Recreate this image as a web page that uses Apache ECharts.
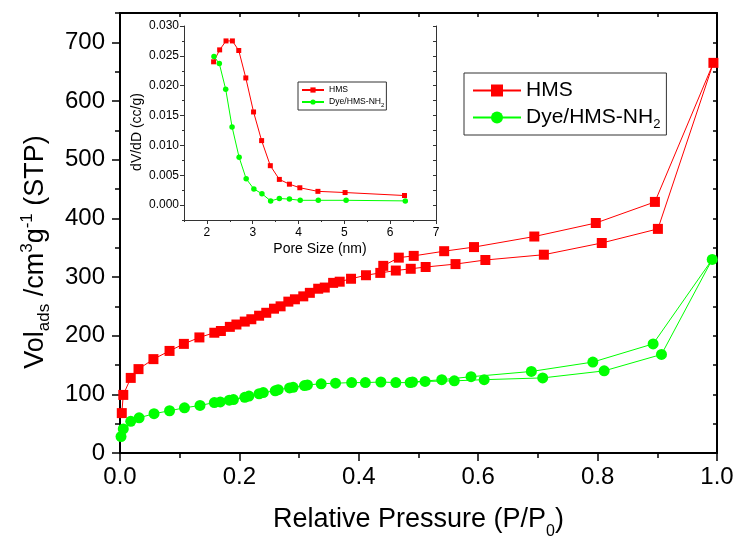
<!DOCTYPE html>
<html><head><meta charset="utf-8">
<script src="https://cdn.jsdelivr.net/npm/echarts@6/dist/echarts.min.js"></script>
<style>html,body{margin:0;padding:0;background:#fff}#c{width:739px;height:540px}</style>
</head><body><div id="c"></div>
<script>
// ---- Main isotherm data (relative pressure P/P0, volume cm3/g STP) ----
const hmsAdsP = [0.003,0.0055,0.018,0.031,0.056,0.083,0.107,0.133,0.158,0.169,0.184,0.195,0.209,0.220,0.233,0.245,0.258,0.269,0.282,0.293,0.307,0.318,0.332,0.343,0.357,0.368,0.387,0.412,0.436,0.462,0.487,0.512,0.562,0.612,0.710,0.807,0.901,0.994];
const hmsAdsV = [68,99,128,143,160,174,186,197,205,208,215,219,224,228,234,239,246,250,258,262,267,273,280,282,290,292,297,303,307,311,314,317,322,329,338,358,382,665];
const hmsDesP = [0.896,0.797,0.694,0.593,0.543,0.492,0.467,0.441];
const hmsDesV = [428,392,369,351,344,336,333,319];
const dyeAdsP = [0.0017,0.0055,0.018,0.032,0.057,0.083,0.108,0.134,0.158,0.168,0.183,0.190,0.209,0.216,0.233,0.240,0.260,0.265,0.284,0.290,0.309,0.314,0.337,0.361,0.388,0.411,0.437,0.462,0.486,0.511,0.560,0.610,0.708,0.811,0.907,0.992];
const dyeAdsV = [28,41,54,60,67,72,77,81,86,87,90,91,95,97,101,103,106,108,111,112,115,116,118,119,120,120,121,120,120,122,123,125,128,140,168,330];
const dyeDesP = [0.893,0.792,0.689,0.588,0.539,0.490];
const dyeDesV = [186,155,139,130,125,121];
// ---- Inset pore size distribution (nm, cc/g) ----
const poreHmsD = [2.146,2.278,2.417,2.556,2.695,2.849,3.018,3.194,3.384,3.581,3.801,4.028,4.423,5.016,6.312];
const poreHmsV = [0.0240,0.0260,0.0275,0.0275,0.0259,0.0213,0.0156,0.0108,0.0066,0.0043,0.0035,0.0029,0.0023,0.0021,0.0016];
const poreDyeD = [2.154,2.271,2.410,2.549,2.703,2.857,3.025,3.201,3.391,3.581,3.801,4.036,4.431,5.038,6.330];
const poreDyeV = [0.0249,0.0237,0.0194,0.0131,0.0080,0.0044,0.0027,0.0019,0.0007,0.0011,0.0010,0.0008,0.0008,0.0008,0.0007];
// ---- Tick labels ----
const insetXTicks = [2,3,4,5,6,7];
const insetYTicks = [0,0.005,0.010,0.015,0.020,0.025,0.030];
const seriesNames = ['HMS','Dye/HMS-NH2'];

function pairs(xs, ys){ return xs.map((x,i)=>[x, ys[i]]); }
const FONT = '"Liberation Sans", Arial, sans-serif';
const RED = '#ff0000', GREEN = '#00ff00';
const blk = {color:'#000', width:2};
const thin = {color:'#333', width:1};

const chart = echarts.init(document.getElementById('c'), null, {renderer:'canvas'});
const option = {
  animation:false,
  backgroundColor:'#fff',
  textStyle:{fontFamily:FONT},
  grid:[
    {left:120, right:22, top:13, bottom:87, containLabel:false, outerBoundsMode:'none'},
    {left:184, right:303, top:26, bottom:320, containLabel:false, outerBoundsMode:'none'}
  ],
  xAxis:[
    {gridIndex:0, type:'value', position:'bottom', min:0, max:1, interval:0.2,
     axisLine:{show:true, onZero:false, lineStyle:blk},
     axisTick:{show:true, inside:false, length:8, lineStyle:{color:'#000', width:1.5}},
     minorTick:{show:true, splitNumber:2, length:5, lineStyle:{color:'#000', width:1.5}},
     axisLabel:{fontSize:24, color:'#000', margin:12, fontFamily:FONT, formatter:v=>v.toFixed(1)},
     splitLine:{show:false},
     name:'Relative Pressure (P/P{sub|0})', nameLocation:'middle', nameGap:47,
     nameTextStyle:{fontSize:27, color:'#000', fontFamily:FONT, lineHeight:30,
       rich:{sub:{fontSize:16, verticalAlign:'bottom', lineHeight:40, fontFamily:FONT, color:'#000'}}}},
    {gridIndex:0, type:'value', position:'top', min:0, max:1, interval:0.1,
     axisLine:{show:true, onZero:false, lineStyle:blk},
     axisTick:{show:true, inside:true, length:4, lineStyle:{color:'#000', width:1.5}},
     axisLabel:{show:false}, splitLine:{show:false}},
    {gridIndex:1, type:'value', position:'bottom', min:1.5, max:7, interval:0.5,
     axisLine:{show:true, onZero:false, lineStyle:thin},
     axisTick:{show:true, inside:false, length:4, customValues:insetXTicks, lineStyle:thin},
     axisLabel:{fontSize:12, color:'#000', margin:7, fontFamily:FONT, customValues:insetXTicks,
       formatter:v=>Number.isInteger(v)?String(v):''},
     splitLine:{show:false},
     name:'Pore Size (nm)', nameLocation:'middle', nameGap:22,
     nameTextStyle:{fontSize:14, color:'#000', fontFamily:FONT, padding:[0,0,0,20]}},
    {gridIndex:1, type:'value', position:'bottom', min:1.5, max:7, interval:0.5,
     axisLine:{show:false, onZero:false},
     axisTick:{show:true, inside:false, length:2, lineStyle:thin},
     axisLabel:{show:false}, splitLine:{show:false}}
  ],
  yAxis:[
    {gridIndex:0, type:'value', position:'left', min:0, max:750, interval:100,
     axisLine:{show:true, onZero:false, lineStyle:blk},
     axisTick:{show:true, inside:false, length:8, lineStyle:{color:'#000', width:1.5}},
     axisLabel:{fontSize:24, color:'#000', margin:15, fontFamily:FONT, showMaxLabel:false},
     splitLine:{show:false},
     name:'Vol{sub|ads} /cm{sup|3}g{sup|-1} (STP)', nameLocation:'middle', nameGap:67, nameRotate:90,
     nameTextStyle:{fontSize:27, color:'#000', fontFamily:FONT, lineHeight:34, padding:[0,38,0,0],
       rich:{
         sub:{fontSize:17, verticalAlign:'bottom', lineHeight:17, fontFamily:FONT, color:'#000'},
         sup:{fontSize:17, verticalAlign:'top', lineHeight:17, fontFamily:FONT, color:'#000'}
       }}},
    {gridIndex:0, type:'value', position:'left', min:0, max:750, interval:50,
     axisLine:{show:false, onZero:false},
     axisTick:{show:true, inside:false, length:5, lineStyle:{color:'#000', width:1.5}},
     axisLabel:{show:false}, splitLine:{show:false}},
    {gridIndex:0, type:'value', position:'right', min:0, max:750, interval:50,
     axisLine:{show:true, onZero:false, lineStyle:blk},
     axisTick:{show:true, inside:true, length:4, lineStyle:{color:'#000', width:1.5}},
     axisLabel:{show:false}, splitLine:{show:false}},
    {gridIndex:1, type:'value', position:'left', min:-0.0025, max:0.03, interval:0.0025,
     axisLine:{show:true, onZero:false, lineStyle:thin},
     axisTick:{show:true, inside:false, length:4, customValues:insetYTicks, lineStyle:thin},
     axisLabel:{fontSize:12, color:'#000', margin:5, fontFamily:FONT, customValues:insetYTicks,
       formatter:v=>{const k=v/0.005; return (v>=-1e-9 && Math.abs(k-Math.round(k))<1e-6)?Math.abs(v).toFixed(3):'';}},
     splitLine:{show:false},
     name:'dV/dD (cc/g)', nameLocation:'middle', nameGap:40, nameRotate:90,
     nameTextStyle:{fontSize:14, color:'#000', fontFamily:FONT, padding:[0,18,0,0]}},
    {gridIndex:1, type:'value', position:'left', min:-0.0025, max:0.03, interval:0.0025,
     axisLine:{show:false, onZero:false},
     axisTick:{show:true, inside:false, length:2, lineStyle:thin},
     axisLabel:{show:false}, splitLine:{show:false}},
    {gridIndex:1, type:'value', position:'right', min:-0.0025, max:0.03, interval:0.0025,
     axisLine:{show:true, onZero:false, lineStyle:thin},
     axisTick:{show:true, inside:true, length:3, lineStyle:thin},
     axisLabel:{show:false}, splitLine:{show:false}}
  ],
  legend:[
    {data:seriesNames, orient:'vertical', left:464, top:73, itemWidth:48, itemHeight:15, itemGap:0, itemTextGap:7,
     padding:[4,6,4,8], borderColor:'#333', borderWidth:1, backgroundColor:'#fff',
     selectedMode:false,
     formatter:n=> n==='Dye/HMS-NH2' ? 'Dye/HMS-NH{sub|2}' : n,
     textStyle:{fontSize:21, lineHeight:27, color:'#000', fontFamily:FONT,
       rich:{sub:{fontSize:13, verticalAlign:'bottom', lineHeight:13, color:'#000', fontFamily:FONT}}}},
    {data:['HMS-inset','Dye-inset'], orient:'vertical', left:298, top:82, itemWidth:22, itemHeight:6.5, itemGap:0, itemTextGap:2,
     padding:[2,2,2,3], borderColor:'#333', borderWidth:1, backgroundColor:'#fff',
     selectedMode:false,
     formatter:n=> n==='HMS-inset' ? 'HMS' : 'Dye/HMS-NH{sub|2}',
     textStyle:{fontSize:8.6, lineHeight:12, color:'#000', fontFamily:FONT,
       rich:{sub:{fontSize:6, verticalAlign:'bottom', lineHeight:6, color:'#000', fontFamily:FONT}}}}
  ],
  series:[
    {name:'HMS', type:'line', xAxisIndex:0, yAxisIndex:0,
     data:[...pairs(hmsAdsP,hmsAdsV), ...pairs(hmsDesP,hmsDesV)],
     symbol:'rect', symbolSize:10, itemStyle:{color:RED}, lineStyle:{color:RED, width:1}, silent:true},
    {name:'Dye/HMS-NH2', type:'line', xAxisIndex:0, yAxisIndex:0,
     data:[...pairs(dyeAdsP,dyeAdsV), ...pairs(dyeDesP,dyeDesV)],
     symbol:'circle', symbolSize:11, itemStyle:{color:GREEN}, lineStyle:{color:GREEN, width:1}, silent:true},
    {name:'HMS-inset', type:'line', xAxisIndex:2, yAxisIndex:3,
     data:pairs(poreHmsD,poreHmsV),
     symbol:'rect', symbolSize:5, itemStyle:{color:RED}, lineStyle:{color:RED, width:1}, silent:true},
    {name:'Dye-inset', type:'line', xAxisIndex:2, yAxisIndex:3,
     data:pairs(poreDyeD,poreDyeV),
     symbol:'circle', symbolSize:5.5, itemStyle:{color:GREEN}, lineStyle:{color:GREEN, width:1}, silent:true}
  ]
};
chart.setOption(option);
</script></body></html>
